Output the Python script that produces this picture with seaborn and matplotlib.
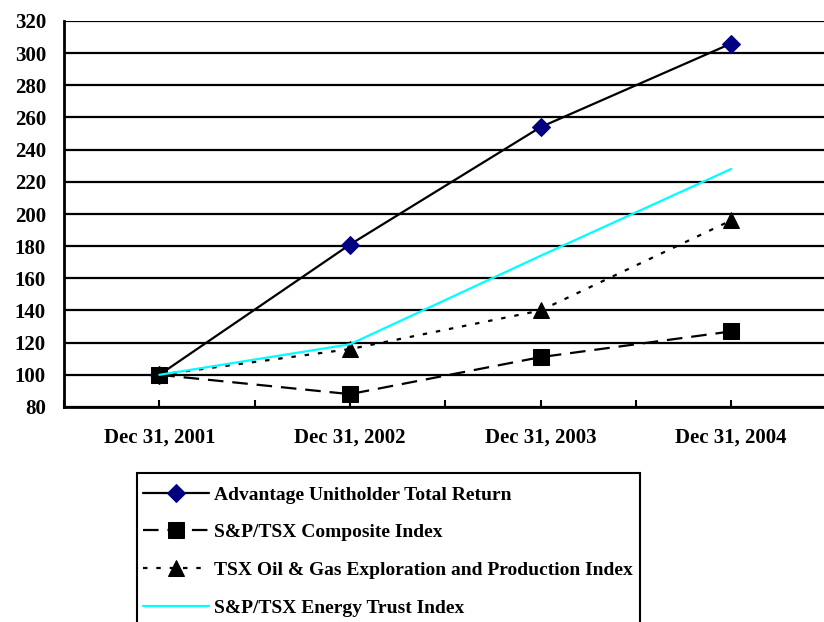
import matplotlib
matplotlib.use("Agg")
import matplotlib.pyplot as plt
import seaborn as sns
import numpy as np
import pandas as pd
from matplotlib.patches import Rectangle

dates = ["Dec 31, 2001", "Dec 31, 2002", "Dec 31, 2003", "Dec 31, 2004"]
advantage = [100, 181, 254, 306]
composite = [100, 88, 111, 127]
oilgas = [100, 116, 140, 196]
energy = [100, 119, 174, 228]
series_names = [
    "Advantage Unitholder Total Return",
    "S&P/TSX Composite Index",
    "TSX Oil & Gas Exploration and Production Index",
    "S&P/TSX Energy Trust Index",
]
yticks = list(range(80, 321, 20))

sns.set_style("white")
plt.rcParams['font.family'] = ['Liberation Serif', 'DejaVu Serif']
plt.rcParams['font.weight'] = 'bold'
plt.rcParams['text.color'] = 'black'
plt.rcParams['xtick.color'] = 'black'
plt.rcParams['ytick.color'] = 'black'
plt.rcParams['axes.labelcolor'] = 'black'

fig = plt.figure(figsize=(8.24, 6.22), dpi=100)
ax = fig.add_axes([64/824, 1-407/622, 1.003-64/824, (407-21)/622])

x = np.arange(len(dates))
styles = [
    dict(color="black", linestyle="-", marker="D", markersize=9.5,
         markerfacecolor="#000080", markeredgecolor="#000080"),
    dict(color="black", linestyle=(0, (7, 4)), marker="s", markersize=11,
         markerfacecolor="black", markeredgecolor="black"),
    dict(color="black", linestyle=(0, (2, 4)), marker="^", markersize=12,
         markerfacecolor="black", markeredgecolor="black"),
    dict(color="#00FFFF", linestyle="-", marker=None),
]
data = [advantage, composite, oilgas, energy]

for yv in yticks:
    ax.axhline(yv, color="black", lw=1.6, zorder=1)

handles = []
for name, vals, st in zip(series_names, data, styles):
    df = pd.DataFrame({"x": x, "y": vals})
    sns.lineplot(data=df, x="x", y="y", ax=ax, lw=1.6, zorder=3, **st)
    handles.append(ax.get_lines()[-1])

ax.set_xlim(-0.5, 3.5)
ax.set_ylim(80, 320)
ax.set_yticks(yticks)
ax.set_yticklabels([str(t) for t in yticks], fontsize=15, fontweight="bold")
ax.set_xticks(x)
ax.set_xticklabels(dates, fontsize=15, fontweight="bold")
ax.set_xticks(np.arange(-0.5, 3.6, 0.5), minor=True)
ax.tick_params(axis="x", which="both", direction="in", length=5, width=1.5,
               color="black", pad=15, bottom=True)
ax.tick_params(axis="y", length=0, pad=13)
ax.set_xlabel("")
ax.set_ylabel("")
for s in ["top", "right"]:
    ax.spines[s].set_visible(False)
for s in ["left", "bottom"]:
    ax.spines[s].set_color("black")
    ax.spines[s].set_linewidth(2)
ax.grid(False)
if ax.get_legend():
    ax.get_legend().remove()

# legend box frame
W, H = 824, 622
fig.patches.append(Rectangle((137/W, -0.05), (640-137)/W, 0.05 + 1-473/H,
                             transform=fig.transFigure, fill=False,
                             edgecolor="black", linewidth=1.5, zorder=5))

leg = fig.legend(handles, series_names, loc="upper left",
                 bbox_to_anchor=(143/W, 1-486/H),
                 prop={"family": "Liberation Serif", "weight": "bold", "size": 14},
                 frameon=False,
                 handlelength=3.4, handletextpad=0.26, labelspacing=1.03,
                 borderpad=0, borderaxespad=0)

fig.savefig("out.png", dpi=100)
